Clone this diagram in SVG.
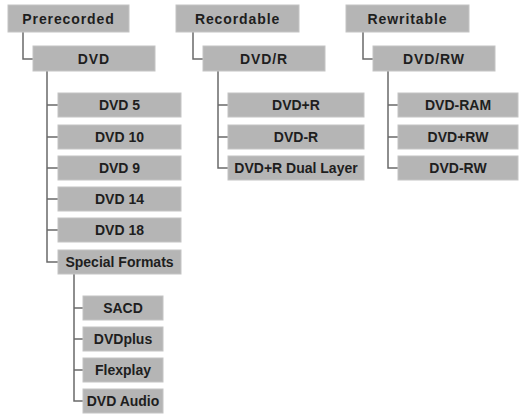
<svg xmlns="http://www.w3.org/2000/svg" width="519" height="414" viewBox="0 0 519 414">
<style>
rect{fill:#b5b5b5;stroke:#c4c4c4;stroke-width:1}
text{font-family:"Liberation Sans",Arial,sans-serif;font-weight:bold;font-size:14px;fill:#1e1e1e;text-anchor:middle}
.h{font-size:14px;letter-spacing:0.9px}
#connectors path{fill:none;stroke:#6a6a6a;stroke-width:1.5}
</style>
<rect x="0" y="0" width="519" height="414" style="fill:#fff;stroke:none"/>
<g id="connectors">
<path d="M23,32V59H33"/>
<path d="M47,71V262H58M47,105H58M47,137H58M47,168H58M47,199H58M47,230H58"/>
<path d="M74,274V401H83M74,308H83M74,339H83M74,370H83"/>
<path d="M193,32V59H203"/>
<path d="M218,71V168H228M218,105H228M218,137H228"/>
<path d="M363,32V59H373"/>
<path d="M388,71V168H398M388,105H398M388,137H398"/>
</g>
<g id="prerecorded"><rect x="8" y="5" width="121" height="27"/><text class="h" x="68.5" y="23.5">Prerecorded</text></g>
<g id="dvd"><rect x="33" y="46" width="122" height="25"/><text class="h" x="94" y="63.5">DVD</text></g>
<g id="dvd5"><rect x="58" y="93" width="123" height="24"/><text x="119.5" y="110">DVD 5</text></g>
<g id="dvd10"><rect x="58" y="125" width="123" height="24"/><text x="119.5" y="142">DVD 10</text></g>
<g id="dvd9"><rect x="58" y="156" width="123" height="24"/><text x="119.5" y="173">DVD 9</text></g>
<g id="dvd14"><rect x="58" y="187" width="123" height="24"/><text x="119.5" y="204">DVD 14</text></g>
<g id="dvd18"><rect x="58" y="218" width="123" height="24"/><text x="119.5" y="235">DVD 18</text></g>
<g id="special"><rect x="58" y="250" width="123" height="24"/><text x="119.5" y="267">Special Formats</text></g>
<g id="sacd"><rect x="83" y="296" width="80" height="24"/><text x="123" y="313">SACD</text></g>
<g id="dvdplus"><rect x="83" y="327" width="80" height="24"/><text x="123" y="344">DVDplus</text></g>
<g id="flexplay"><rect x="83" y="358" width="80" height="24"/><text x="123" y="375">Flexplay</text></g>
<g id="dvdaudio"><rect x="83" y="389" width="80" height="24"/><text x="123" y="406">DVD Audio</text></g>
<g id="recordable"><rect x="176" y="5" width="123" height="27"/><text class="h" x="237.5" y="23.5">Recordable</text></g>
<g id="dvdr"><rect x="203" y="46" width="122" height="25"/><text class="h" x="264" y="63.5">DVD/R</text></g>
<g id="dvdplusr"><rect x="228" y="93" width="136" height="24"/><text x="296" y="110">DVD+R</text></g>
<g id="dvdminusr"><rect x="228" y="125" width="136" height="24"/><text x="296" y="142">DVD-R</text></g>
<g id="dvdrdl"><rect x="228" y="156" width="136" height="24"/><text x="296" y="173">DVD+R Dual Layer</text></g>
<g id="rewritable"><rect x="346" y="5" width="123" height="27"/><text class="h" x="407.5" y="23.5">Rewritable</text></g>
<g id="dvdrw"><rect x="373" y="46" width="122" height="25"/><text class="h" x="434" y="63.5">DVD/RW</text></g>
<g id="dvdram"><rect x="398" y="93" width="120" height="24"/><text x="458" y="110">DVD-RAM</text></g>
<g id="dvdplusrw"><rect x="398" y="125" width="120" height="24"/><text x="458" y="142">DVD+RW</text></g>
<g id="dvdminusrw"><rect x="398" y="156" width="120" height="24"/><text x="458" y="173">DVD-RW</text></g>
</svg>
